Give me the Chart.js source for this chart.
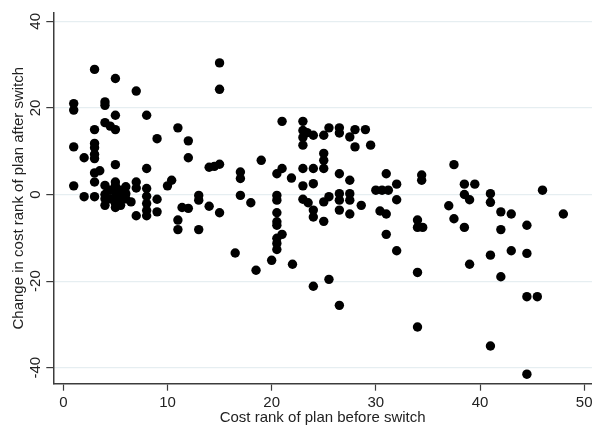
<!DOCTYPE html>
<html>
<head>
<meta charset="utf-8">
<script src="https://cdn.jsdelivr.net/npm/chart.js@4"></script>
<style>
  html, body { margin: 0; padding: 0; background: #fff; }
  #wrap { width: 592px; height: 425px; }
</style>
</head>
<body>
<div id="wrap"><canvas id="myChart" width="592" height="425"></canvas></div>
<script>
// cost rank before switch (x) and change in cost rank after switch (y)
const costRankBefore = [
  1, 1, 1, 1,
  2, 2,
  3, 3, 3, 3, 3, 3, 3, 3.5, 3, 3,
  4, 4, 4, 4.5, 5,
  5, 5, 5, 5, 5, 5, 5,
  4, 4, 4, 4.5, 4.5, 5, 5.5, 5.5, 4, 5.5, 5,
  6, 6, 6.5, 6,
  7, 7, 7, 7,
  8, 8, 8, 8, 8, 8, 8,
  9, 9, 9,
  10, 10.4,
  11, 11.4, 11, 11,
  12, 12, 12,
  13, 13, 13,
  14, 14.5, 15, 14,
  15, 15, 15,
  16.5,
  17, 17, 17,
  18, 18.5,
  19,
  20,
  20.5, 20.5, 20.5, 20.5, 20.5, 20.5, 20.5, 20.5, 20.5,
  21, 21, 21, 21.9, 22,
  23, 23, 23.4, 24, 23, 23, 23, 23, 23, 23.5,
  24, 24, 24, 24, 24,
  25, 25.5, 25, 25, 25, 25, 25.5, 25, 25.5,
  26.5, 26.5, 26.5, 26.5, 26.5, 26.5, 26.5,
  27.5, 27.5, 27.5, 27.5, 27.5,
  28, 28, 28.6,
  29, 29.5,
  30, 30.6, 31.2, 30.4, 31,
  31, 31,
  32, 32, 32,
  34, 34, 34.5, 34, 34,
  34.4, 34.4,
  37.5, 37, 37.5,
  38.5, 39.5, 38.5, 39, 38.5, 39,
  41, 41, 41, 41,
  42, 42, 42,
  43, 43,
  44.5, 44.5, 44.5, 45.5, 44.5,
  46, 48
];
const rankChange = [
  21, 19.5, 11, 2,
  8.5, -0.5,
  28.9, 15, 11.8, 10.8, 9.3, 8.3, 5, 5.5, 2.9, -0.5,
  21.4, 20.6, 16.6, 15.8, 15,
  26.8, 18.3, 6.9, 2.9, 2, 0.5, -1,
  2.1, 0, -1, 1, -1, -2, -0.5, 1, -2.5, -2.5, -3,
  1.8, 0.2, -1.7, -1,
  23.9, 2.9, 1.5, -4.9,
  18.3, 6, 1.4, -0.4, -2.1, -3.7, -4.9,
  12.9, -1.1, -4,
  2, 3.3,
  15.4, -3, -5.9, -8.1,
  12.4, 8.5, -3.2,
  -0.2, -1.3, -8.1,
  6.3, 6.5, 7, -2.7,
  30.4, 24.3, -4.2,
  -13.5,
  5.2, 3.7, -0.2,
  -1.9, -17.5,
  7.9,
  -15.2,
  4.8, -0.2, -1.3, -4.2, -6.3, -7.1, -10.1, -11.3, -12.7,
  16.9, 6, -9.2, 3.8, -16.1,
  16.9, 14.8, 14.3, 13.7, 13.2, 11.4, 6, 2, -1.1, -1.9,
  6, 2.5, -3.6, -5.2, -21.2,
  13.7, 15.4, 9.5, 7.9, 6, -1.7, -0.5, -6.2, -19.6,
  15.4, 14.2, 4.8, 0.2, -1.3, -3.6, -25.6,
  13.3, 3.3, 0.2, -1.3, -4.5,
  15, 11, -2.5,
  15, 11.4,
  1, 1, 1, -3.8, -4.5,
  4.8, -9.2,
  2.4, -1.2, -13,
  -5.9, -7.6, -7.6, -18, -30.6,
  4.5, 3.3,
  6.9, -2.6, -5.6,
  2.4, 2.4, 0, -1.2, -7.6, -16.1,
  0.2, -1.8, -14, -35,
  -4, -8.1, -19,
  -4.5, -13,
  -7.1, -13.6, -23.6, -23.6, -41.5,
  1, -4.5
];
const xTicks = [0, 10, 20, 30, 40, 50];
const yTicks = [-40, -20, 0, 20, 40];

const points = costRankBefore.map((x, i) => ({ x: x, y: rankChange[i] }));

const axisColor = '#3c3c3c';
const gridColor = '#e6eef1';
const textColor = '#222';
const font = { family: 'Liberation Sans, Arial, sans-serif', size: 15 };

const ctx = document.getElementById('myChart').getContext('2d');
new Chart(ctx, {
  type: 'scatter',
  data: {
    datasets: [{
      data: points,
      backgroundColor: '#000',
      borderWidth: 0,
      pointRadius: 4.7,
      pointHoverRadius: 4.7
    }]
  },
  options: {
    responsive: false,
    animation: false,
    layout: { autoPadding: false, padding: { top: 12.7, right: 0, bottom: 0, left: 0 } },
    plugins: { legend: { display: false }, tooltip: { enabled: false } },
    scales: {
      x: {
        type: 'linear',
        min: -0.96,
        max: 50.75,
        afterBuildTicks: s => { s.ticks = xTicks.map(v => ({ value: v })); },
        afterFit: s => { s.height = 41.3; s.paddingLeft = 0; s.paddingRight = 0; },
        border: { color: axisColor, width: 1.5 },
        grid: { drawOnChartArea: false, tickLength: 7, tickColor: axisColor, tickWidth: 1.2 },
        ticks: { color: textColor, font: font, padding: 3, maxRotation: 0 },
        title: {
          display: true, text: 'Cost rank of plan before switch', color: textColor,
          font: { family: font.family, size: 15, lineHeight: 1 }, padding: { top: 0, bottom: 0 }
        }
      },
      y: {
        type: 'linear',
        min: -43.7,
        max: 42,
        afterBuildTicks: s => { s.ticks = yTicks.map(v => ({ value: v })); },
        afterFit: s => { s.width = 53.3; s.paddingTop = 0; s.paddingBottom = 0; },
        border: { color: axisColor, width: 1.5 },
        grid: { color: gridColor, lineWidth: 1.2, tickLength: 7, tickColor: axisColor, tickWidth: 1.2 },
        ticks: { color: textColor, font: font, padding: 0, minRotation: 90, maxRotation: 90, crossAlign: 'center' },
        title: {
          display: true, text: 'Change in cost rank of plan after switch', color: textColor,
          font: { family: font.family, size: 15, lineHeight: 1 }, padding: { top: 11, bottom: 0 }
        }
      }
    }
  }
});
</script>
</body>
</html>
